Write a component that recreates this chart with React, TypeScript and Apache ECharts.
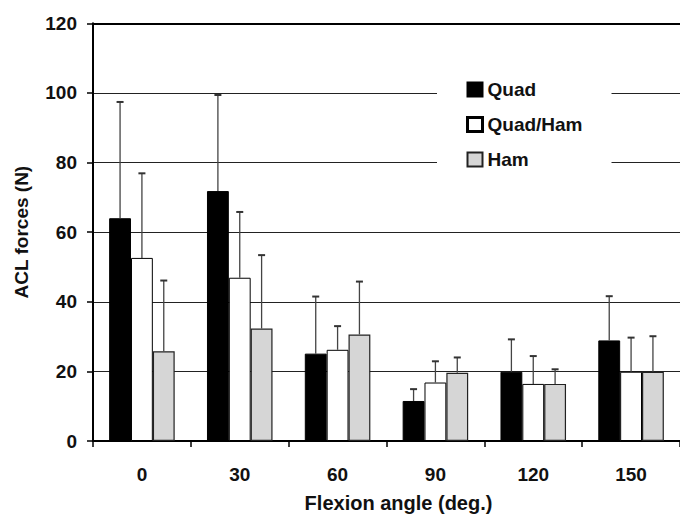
import React, { useEffect, useRef } from "react";
import * as echarts from "echarts";

// Flexion angles (deg.)
const categories = ["0", "30", "60", "90", "120", "150"];

// Mean ACL forces (N) per loading condition
const quad = [64.0, 71.8, 25.1, 11.5, 19.9, 28.9];
const quadHam = [52.6, 46.9, 26.2, 16.8, 16.4, 19.9];
const ham = [25.8, 32.3, 30.6, 19.6, 16.4, 19.9];

// Standard deviations (upper error bars)
const quadSd = [33.4, 27.6, 16.4, 3.4, 9.3, 12.7];
const quadHamSd = [24.3, 18.9, 6.8, 6.1, 8.0, 9.8];
const hamSd = [20.3, 21.1, 15.2, 4.4, 4.2, 10.2];

const yTicks = [0, 20, 40, 60, 80, 100, 120];

const FONT = '"Liberation Sans", Arial, Helvetica, sans-serif';
const CAT_GAP = 0.33;

function errorSeries(name: string, means: number[], sds: number[], slot: number) {
  return {
    name,
    type: "custom",
    z: 5,
    silent: true,
    data: means.map((m, i) => [i, m, sds[i]]),
    encode: { x: 0, y: 1 },
    renderItem: (_params: any, api: any) => {
      const i = api.value(0);
      const v = api.value(1);
      const sd = api.value(2);
      const base = api.coord([i, v]);
      const tip = api.coord([i, v + sd]);
      const band = api.size([1, 0])[0];
      const w = (band * (1 - CAT_GAP)) / 3;
      const x = base[0] + (slot - 1) * w;
      return {
        type: "group",
        children: [
          {
            type: "line",
            shape: { x1: x, y1: base[1], x2: x, y2: tip[1] },
            style: { stroke: "#444", lineWidth: 1.3 },
          },
          {
            type: "line",
            shape: { x1: x - 3.5, y1: tip[1], x2: x + 3.5, y2: tip[1] },
            style: { stroke: "#333", lineWidth: 2 },
          },
        ],
      };
    },
  };
}

export default function App() {
  const ref = useRef<HTMLDivElement>(null);

  useEffect(() => {
    if (!ref.current) return;
    const chart = echarts.init(ref.current, null, { renderer: "svg" });
    const labelStyle = { fontFamily: FONT, fontWeight: "bold" as const, fontSize: 19, color: "#111" };

    chart.setOption({
      animation: false,
      backgroundColor: "#fff",
      grid: { left: 93, top: 23.3, width: 590, height: 419.4, containLabel: false },
      legend: {
        orient: "vertical",
        left: 437,
        top: 60,
        backgroundColor: "#fff",
        padding: [20, 29, 29, 29],
        itemWidth: 15,
        itemHeight: 14,
        itemGap: 16,
        icon: "rect",
        textStyle: { ...labelStyle },
        data: [
          { name: "Quad" },
          { name: "Quad/Ham", itemStyle: { borderWidth: 3, borderColor: "#000" } },
          { name: "Ham" },
        ],
      },
      xAxis: [
        {
          type: "category",
          data: categories,
          name: "Flexion angle (deg.)",
          nameLocation: "middle",
          nameGap: 52,
          nameTextStyle: { ...labelStyle, fontSize: 20, padding: [0, 0, 0, 24] },
          axisLine: { lineStyle: { color: "#000", width: 2 } },
          axisTick: { show: true, length: 6, lineStyle: { color: "#000", width: 1.5 } },
          axisLabel: { ...labelStyle, margin: 24 },
          splitLine: { show: false },
        },
        {
          type: "category",
          data: categories,
          position: "top",
          axisLine: { show: true, lineStyle: { color: "#000", width: 2 } },
          axisTick: { show: false },
          axisLabel: { show: false },
        },
      ],
      yAxis: {
        type: "value",
        min: yTicks[0],
        max: yTicks[yTicks.length - 1],
        interval: 20,
        name: "ACL forces (N)",
        nameLocation: "middle",
        nameGap: 62,
        nameTextStyle: { ...labelStyle },
        axisLine: { show: true, lineStyle: { color: "#000", width: 2 } },
        axisTick: { show: true, length: 6, lineStyle: { color: "#000", width: 1.5 } },
        axisLabel: { ...labelStyle, margin: 16 },
        splitLine: { show: true, lineStyle: { color: "#222", width: 1 } },
      },
      series: [
        {
          name: "Quad",
          type: "bar",
          data: quad,
          barGap: "0%",
          barCategoryGap: `${CAT_GAP * 100}%`,
          itemStyle: { color: "#000", borderColor: "#000", borderWidth: 1 },
        },
        {
          name: "Quad/Ham",
          type: "bar",
          data: quadHam,
          barGap: "0%",
          barCategoryGap: `${CAT_GAP * 100}%`,
          itemStyle: { color: "#fff", borderColor: "#000", borderWidth: 1 },
        },
        {
          name: "Ham",
          type: "bar",
          data: ham,
          barGap: "0%",
          barCategoryGap: `${CAT_GAP * 100}%`,
          itemStyle: { color: "#d6d6d6", borderColor: "#222", borderWidth: 1.2 },
        },
        errorSeries("Quad SD", quad, quadSd, 0),
        errorSeries("Quad/Ham SD", quadHam, quadHamSd, 1),
        errorSeries("Ham SD", ham, hamSd, 2),
      ],
    });

    return () => chart.dispose();
  }, []);

  return (
    <div
      ref={ref}
      style={{ position: "absolute", left: 0, top: 0, width: 680, height: 518 }}
    />
  );
}
